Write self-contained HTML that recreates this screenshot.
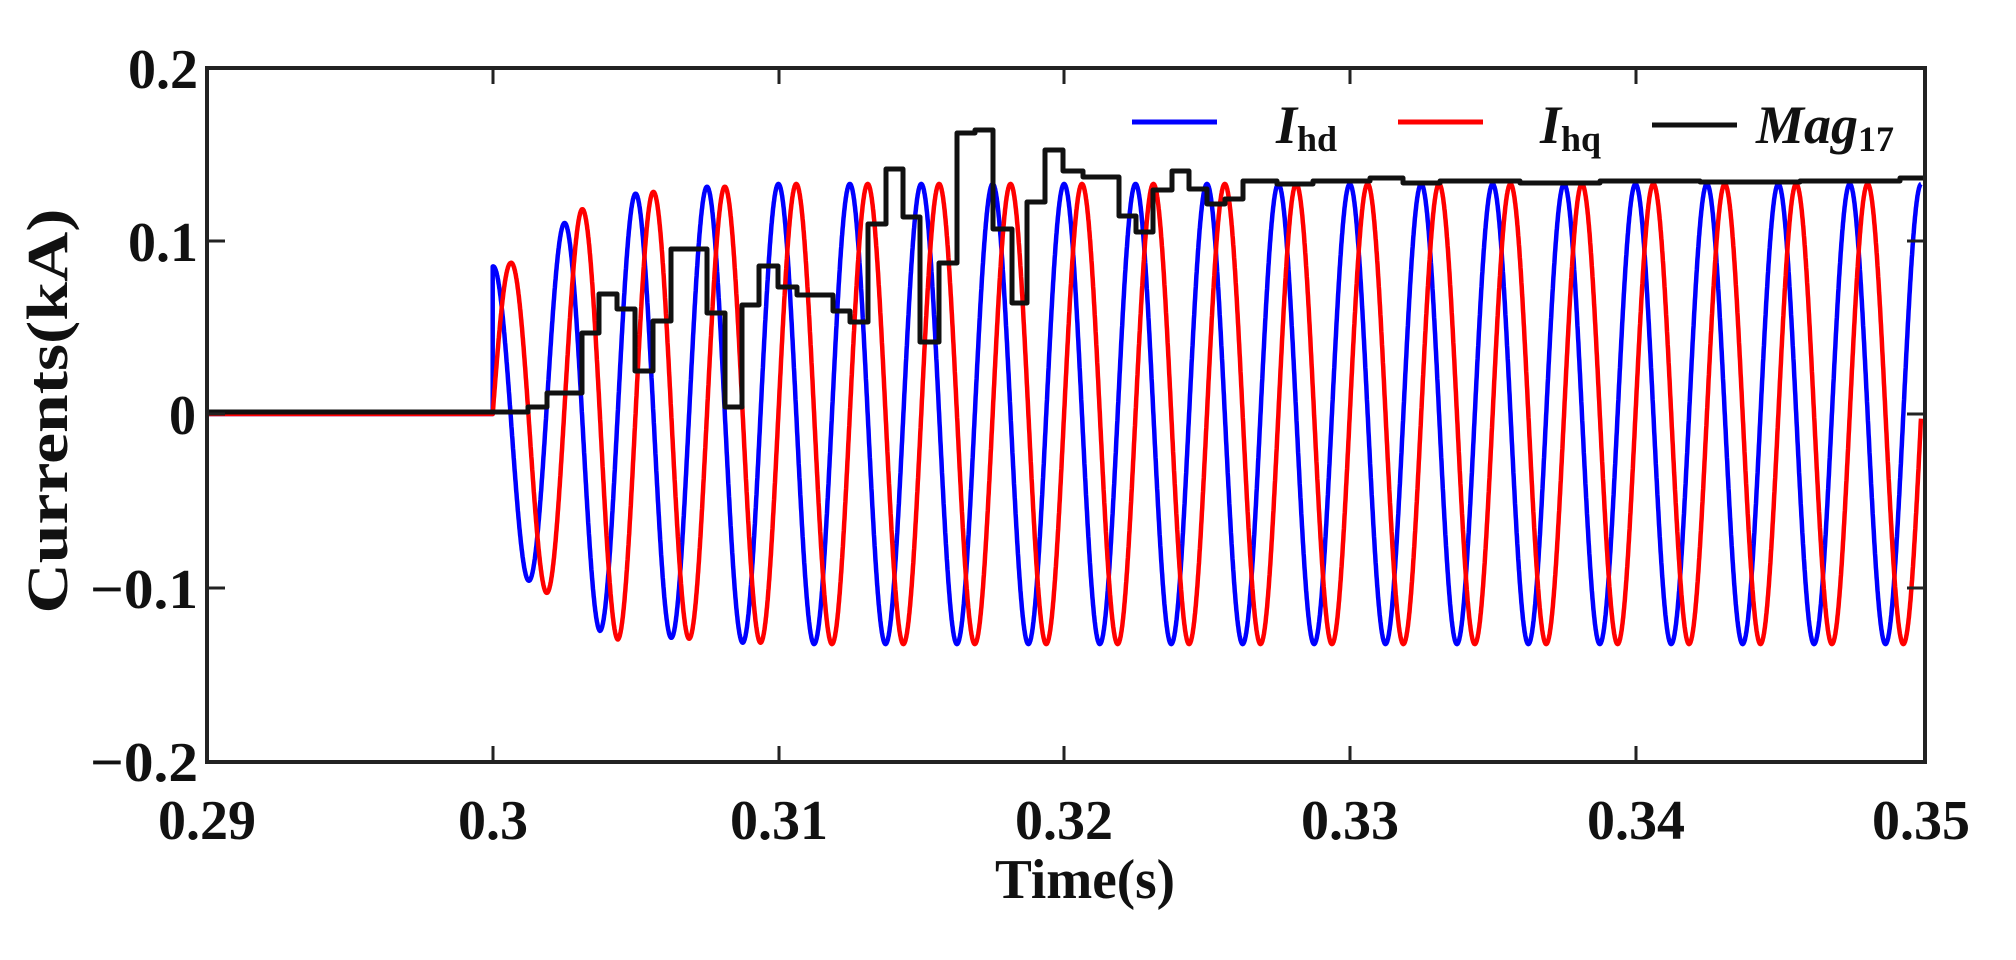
<!DOCTYPE html>
<html><head><meta charset="utf-8"><style>
html,body{margin:0;padding:0;background:#fff;}
svg{display:block;}
text{font-family:"Liberation Serif","Times New Roman",serif;font-weight:bold;fill:#111;}
</style></head><body>
<svg id="s" width="2016" height="960" viewBox="0 0 2016 960" xmlns="http://www.w3.org/2000/svg">
<g id="plot"></g>
<rect x="207" y="68" width="1718" height="694" fill="none" stroke="#222" stroke-width="4"/>
<g stroke="#222" stroke-width="3">
<line x1="493" y1="68" x2="493" y2="84"/><line x1="779" y1="68" x2="779" y2="84"/><line x1="1064" y1="68" x2="1064" y2="84"/><line x1="1350" y1="68" x2="1350" y2="84"/><line x1="1636" y1="68" x2="1636" y2="84"/>
<line x1="493" y1="762" x2="493" y2="746"/><line x1="779" y1="762" x2="779" y2="746"/><line x1="1064" y1="762" x2="1064" y2="746"/><line x1="1350" y1="762" x2="1350" y2="746"/><line x1="1636" y1="762" x2="1636" y2="746"/>
<line x1="207" y1="241" x2="225" y2="241"/><line x1="207" y1="414" x2="225" y2="414"/><line x1="207" y1="588" x2="225" y2="588"/>
<line x1="1925" y1="241" x2="1907" y2="241"/><line x1="1925" y1="414" x2="1907" y2="414"/><line x1="1925" y1="588" x2="1907" y2="588"/>
</g>
<g font-size="56" text-anchor="end">
<text x="198" y="88" textLength="70" lengthAdjust="spacingAndGlyphs">0.2</text>
<text x="198" y="261" textLength="70" lengthAdjust="spacingAndGlyphs">0.1</text>
<text x="196" y="434" textLength="27" lengthAdjust="spacingAndGlyphs">0</text>
<text x="198" y="608" textLength="108" lengthAdjust="spacingAndGlyphs">−0.1</text>
<text x="198" y="781" textLength="108" lengthAdjust="spacingAndGlyphs">−0.2</text>
</g>
<g font-size="56" text-anchor="middle">
<text x="207" y="839" textLength="98" lengthAdjust="spacingAndGlyphs">0.29</text>
<text x="493" y="839" textLength="70" lengthAdjust="spacingAndGlyphs">0.3</text>
<text x="779" y="839" textLength="98" lengthAdjust="spacingAndGlyphs">0.31</text>
<text x="1064" y="839" textLength="98" lengthAdjust="spacingAndGlyphs">0.32</text>
<text x="1350" y="839" textLength="98" lengthAdjust="spacingAndGlyphs">0.33</text>
<text x="1636" y="839" textLength="98" lengthAdjust="spacingAndGlyphs">0.34</text>
<text x="1921" y="839" textLength="98" lengthAdjust="spacingAndGlyphs">0.35</text>
</g>
<text x="1085" y="898" font-size="56" text-anchor="middle" textLength="180" lengthAdjust="spacingAndGlyphs">Time(s)</text>
<text transform="translate(67,411) rotate(-90)" font-size="58" text-anchor="middle" textLength="405" lengthAdjust="spacingAndGlyphs">Currents(kA)</text>
<g stroke-width="5">
<line x1="1132" y1="122" x2="1217" y2="122" stroke="#0000ff"/>
<line x1="1398" y1="122" x2="1483" y2="122" stroke="#ff0000"/>
<line x1="1652" y1="125" x2="1737" y2="125" stroke="#111"/>
</g>
<text x="1276" y="143" font-size="54" font-style="italic">I<tspan font-size="36" font-style="normal" dy="8">hd</tspan></text>
<text x="1540" y="143" font-size="54" font-style="italic">I<tspan font-size="36" font-style="normal" dy="8">hq</tspan></text>
<text x="1756" y="143" font-size="54" font-style="italic">Mag<tspan font-size="36" font-style="normal" dy="8">17</tspan></text>
</svg>
<script>
var X=function(t){return 207+(t-0.29)*28570;};
var Y=function(v){return 414-v*1735;};
function interp(pts,x){if(x<=pts[0][0])return pts[0][1];for(var i=1;i<pts.length;i++){if(x<=pts[i][0]){var a=pts[i-1],b=pts[i];return a[1]+(b[1]-a[1])*(x-a[0])/(b[0]-a[0]);}}return pts[pts.length-1][1];}
var eb=[[0,0.085],[0.00125,0.096],[0.0025,0.11],[0.00375,0.125],[0.005,0.127],[0.0075,0.131],[0.01,0.1326]];
var er=[[0,0.085],[0.000625,0.087],[0.001875,0.103],[0.003125,0.118],[0.004375,0.13],[0.005625,0.128],[0.0081,0.131],[0.0106,0.1326]];
var w=2*Math.PI*400;
function path(f){var d="M"+X(0.29).toFixed(1)+","+Y(0).toFixed(1)+" L"+X(0.3).toFixed(1)+","+Y(0).toFixed(1);
for(var t=0.3;t<=0.35;t+=0.000008){var tau=t-0.3;d+=" L"+X(t).toFixed(1)+","+Y(f(tau)).toFixed(1);}return d;}
var blue=path(function(tau){return interp(eb,tau)*Math.cos(w*tau);});
var red=path(function(tau){return interp(er,tau)*Math.sin(w*tau);});
var steps=[[207,412],[528,407],[547,393],[582,333],[599,294],[617,309],[635,371],[653,321],[671,249],[707,313],[725,407],[742,305],[759,266],[778,287],[797,295],[833,311],[850,322],[868,224],[886,169],[903,217],[920,342],[939,263],[957,133],[975,130],[993,229],[1012,303],[1027,202],[1045,150],[1063,171],[1083,177],[1119,216],[1136,232],[1153,190],[1172,171],[1189,189],[1207,204],[1225,199],[1243,181],[1277,184],[1313,181],[1370,178],[1403,183],[1440,181],[1520,183],[1600,181],[1700,182],[1800,181],[1900,178],[1925,178]];
var bd="M"+steps[0][0]+","+steps[0][1];
for(var i=1;i<steps.length;i++){bd+=" L"+steps[i][0]+","+steps[i-1][1]+" L"+steps[i][0]+","+steps[i][1];}
var NS="http://www.w3.org/2000/svg";var g=document.getElementById("plot");
function add(d,c,wd){var p=document.createElementNS(NS,"path");p.setAttribute("d",d);p.setAttribute("fill","none");p.setAttribute("stroke",c);p.setAttribute("stroke-width",wd);p.setAttribute("stroke-linejoin","round");g.appendChild(p);}
add(blue,"#0000ff",4.5);add(red,"#ff0000",4.5);add(bd,"#111",5);
</script>
</body></html>
